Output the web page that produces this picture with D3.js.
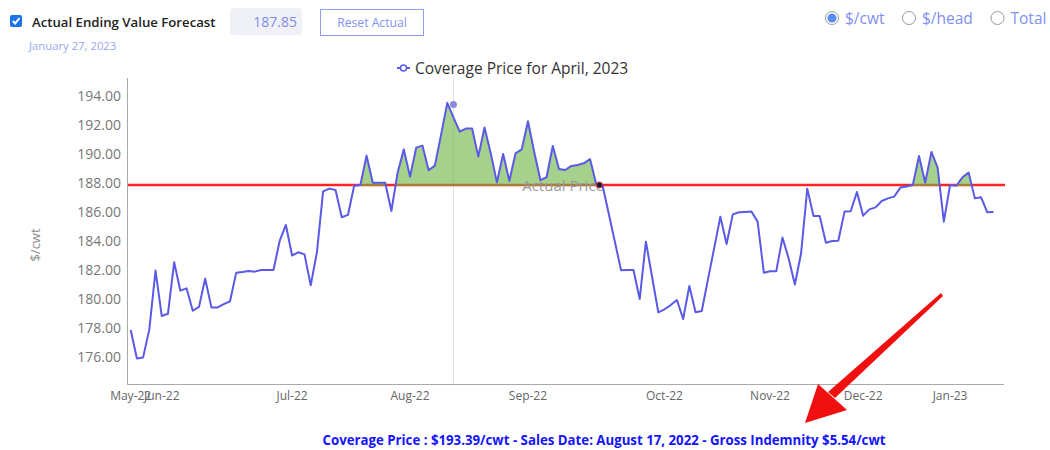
<!DOCTYPE html>
<html>
<head>
<meta charset="utf-8">
<script src="https://cdnjs.cloudflare.com/ajax/libs/d3/7.8.5/d3.min.js"></script>
<style>
  body { margin: 0; background: #fff; font-family: "Open Sans", sans-serif; }
</style>
</head>
<body>
<div id="chart"></div>
<script>
// price series (one point per sales date)
var prices = [
  177.87, 175.92, 175.99, 177.92, 181.96, 178.84, 178.99, 182.53, 180.58, 180.74,
  179.20, 179.46, 181.41, 179.43, 179.43, 179.66, 179.85, 181.82, 181.86, 181.93,
  181.89, 182.00, 182.00, 182.00, 184.00, 185.10, 183.00, 183.22, 183.08, 180.95,
  183.22, 187.41, 187.60, 187.50, 185.63, 185.79, 187.80, 187.85, 189.87, 188.01,
  188.01, 188.01, 186.06, 188.70, 190.30, 188.42, 190.42, 190.56, 188.86, 189.18,
  191.30, 193.50, 192.50, 191.52, 191.73, 191.73, 189.80, 191.80, 190.03, 188.03,
  189.98, 188.13, 190.03, 190.30, 192.23, 190.14, 188.19, 188.38, 190.53, 188.95,
  188.88, 189.16, 189.23, 189.34, 189.64, 187.90, 187.85, 185.90, 183.95, 181.98,
  182.00, 182.00, 180.00, 183.95, 181.52, 179.09, 179.30, 179.59, 179.94, 178.63,
  180.90, 179.09, 179.18, 181.36, 183.51, 185.67, 183.79, 185.83, 185.97, 186.00,
  186.02, 185.33, 181.82, 181.91, 181.91, 184.23, 182.80, 181.00, 183.15, 187.60,
  185.72, 185.72, 183.88, 184.00, 184.02, 186.02, 186.04, 187.37, 185.74, 186.17,
  186.31, 186.75, 186.93, 187.05, 187.67, 187.74, 187.85, 189.85, 188.01, 190.12,
  189.04, 185.33, 187.85, 187.80, 188.38, 188.70, 186.93, 187.00, 185.97, 185.99
];

// month labels and the index of the first point of each month
var monthIdx = [0, 5, 26, 45, 64, 86, 103, 118, 132];
var monthLabels = ["May-22", "Jun-22", "Jul-22", "Aug-22", "Sep-22", "Oct-22", "Nov-22", "Dec-22", "Jan-23"];

var yTicks = [176, 178, 180, 182, 184, 186, 188, 190, 192, 194];

var actualPrice = 187.85;
var coverageIdx = 52;
var coveragePrice = 193.39;
var actualIdx = 76;

var width = 1050, height = 450;

var svg = d3.select("#chart").append("svg")
    .attr("width", width)
    .attr("height", height);

// scales
var x = d3.scaleLinear().domain([0, prices.length - 1]).range([130.7, 993.5]);
var y = d3.scaleLinear().domain([174.16, 195.21]).range([384, 78]);

// ---- controls at the top ----
var controls = svg.append("g");
controls.append("rect").attr("x", 10).attr("y", 15).attr("width", 12).attr("height", 12)
    .attr("rx", 2).attr("fill", "#1a73e8");
controls.append("path").attr("d", "M12.8,21 L15.2,23.5 L19.5,18.2")
    .attr("fill", "none").attr("stroke", "#fff").attr("stroke-width", 2);
controls.append("text").attr("x", 32).attr("y", 27)
    .attr("font-size", 13.2).attr("font-weight", 600).attr("fill", "#222")
    .text("Actual Ending Value Forecast");
controls.append("text").attr("x", 29).attr("y", 50)
    .attr("font-size", 11.3).attr("fill", "#9aa8f0")
    .text("January 27, 2023");
controls.append("rect").attr("x", 230).attr("y", 8).attr("width", 72).attr("height", 27)
    .attr("rx", 4).attr("fill", "#f0f1f6");
controls.append("text").attr("x", 297).attr("y", 27).attr("text-anchor", "end")
    .attr("font-size", 14).attr("fill", "#7e8ce8")
    .text("187.85");
controls.append("rect").attr("x", 320.5).attr("y", 9.5).attr("width", 103).attr("height", 26)
    .attr("fill", "#fff").attr("stroke", "#8c9ff5");
controls.append("text").attr("x", 372).attr("y", 27).attr("text-anchor", "middle")
    .attr("font-size", 12.2).attr("fill", "#8393ef")
    .text("Reset Actual");

// radio buttons
var radios = [{label: "$/cwt", cx: 832, on: true}, {label: "$/head", cx: 909, on: false}, {label: "Total", cx: 997.5, on: false}];
radios.forEach(function(r) {
  controls.append("circle").attr("cx", r.cx).attr("cy", 18).attr("r", 6.5)
      .attr("fill", "#fff").attr("stroke", "#999").attr("stroke-width", 1);
  if (r.on) {
    controls.append("circle").attr("cx", r.cx).attr("cy", 18).attr("r", 4.5).attr("fill", "#5b8ef5");
  }
  controls.append("text").attr("x", r.cx + 13).attr("y", 24)
      .attr("font-size", 15.5).attr("fill", "#7f90f0")
      .text(r.label);
});

// ---- legend ----
svg.append("line").attr("x1", 397).attr("x2", 410).attr("y1", 68).attr("y2", 68)
    .attr("stroke", "#5a5ae6").attr("stroke-width", 2);
svg.append("circle").attr("cx", 403.5).attr("cy", 68).attr("r", 3)
    .attr("fill", "#fff").attr("stroke", "#5a5ae6").attr("stroke-width", 1.5);
svg.append("text").attr("x", 415).attr("y", 74)
    .attr("font-size", 15.5).attr("fill", "#333")
    .text("Coverage Price for April, 2023");

// ---- axes ----
svg.append("line").attr("x1", 127.5).attr("x2", 127.5).attr("y1", 78).attr("y2", 384.5)
    .attr("stroke", "#aaa");
svg.append("line").attr("x1", 127).attr("x2", 1004).attr("y1", 384.5).attr("y2", 384.5)
    .attr("stroke", "#aaa");

svg.selectAll(".ytick").data(yTicks).enter().append("text")
    .attr("x", 121).attr("y", function(d) { return y(d) + 5; })
    .attr("text-anchor", "end").attr("font-size", 14).attr("fill", "#777")
    .text(function(d) { return d3.format(".2f")(d); });

svg.append("text")
    .attr("transform", "translate(40,245) rotate(-90)")
    .attr("text-anchor", "middle").attr("font-size", 13).attr("fill", "#888")
    .text("$/cwt");

svg.selectAll(".xtick").data(monthIdx).enter().append("text")
    .attr("x", function(d) { return x(d); }).attr("y", 400)
    .attr("text-anchor", "middle")
    .attr("font-family", "'Liberation Sans Narrow', 'Open Sans', sans-serif")
    .attr("font-size", 12).attr("fill", "#666")
    .text(function(d, i) { return monthLabels[i]; });

// crosshair at the selected sales date
svg.append("line").attr("x1", x(coverageIdx)).attr("x2", x(coverageIdx))
    .attr("y1", 78).attr("y2", 384).attr("stroke", "#e2e2e2").attr("stroke-width", 1);

// actual price line
svg.append("line").attr("x1", 128).attr("x2", 1005)
    .attr("y1", y(actualPrice)).attr("y2", y(actualPrice))
    .attr("stroke", "#ff2525").attr("stroke-width", 2.5);

// green area above actual price
svg.append("clipPath").attr("id", "above")
  .append("rect").attr("x", 0).attr("y", 0).attr("width", width).attr("height", y(actualPrice) + 1);

var area = d3.area()
    .x(function(d, i) { return x(i); })
    .y0(y(actualPrice) + 1)
    .y1(function(d) { return y(d); });

svg.append("path").datum(prices)
    .attr("clip-path", "url(#above)")
    .attr("d", area)
    .attr("fill", "rgb(110,180,70)").attr("fill-opacity", 0.62);

// actual price label
svg.append("text").attr("x", 604).attr("y", 191).attr("text-anchor", "end")
    .attr("font-size", 15).attr("fill", "#999")
    .text("Actual Price");

// price line
var line = d3.line()
    .x(function(d, i) { return x(i); })
    .y(function(d) { return y(d); });

svg.append("path").datum(prices)
    .attr("d", line)
    .attr("fill", "none").attr("stroke", "#5a5ae6").attr("stroke-width", 2)
    .attr("stroke-linejoin", "round");

// markers
svg.append("circle").attr("cx", x(actualIdx) - 3).attr("cy", y(actualPrice)).attr("r", 3)
    .attr("fill", "#1a1a3a").attr("stroke", "#e03030").attr("stroke-width", 1);
svg.append("circle").attr("cx", x(coverageIdx)).attr("cy", y(coveragePrice)).attr("r", 3.5)
    .attr("fill", "#8a8ae0");

// ---- red arrow ----
svg.append("path")
    .attr("d", "M941,293 L943,296 L835,398 L828,392 Z M805,423 L818,384 L847,410 Z")
    .attr("fill", "#f01010");

// ---- caption ----
svg.append("text").attr("x", 604).attr("y", 445).attr("text-anchor", "middle")
    .attr("font-family", "'Liberation Sans Narrow', 'Open Sans', sans-serif")
    .attr("font-size", 14).attr("font-weight", "bold").attr("fill", "#1414ff")
    .attr("textLength", 563).attr("lengthAdjust", "spacingAndGlyphs")
    .text("Coverage Price : $193.39/cwt - Sales Date: August 17, 2022 - Gross Indemnity $5.54/cwt");
</script>
</body>
</html>
